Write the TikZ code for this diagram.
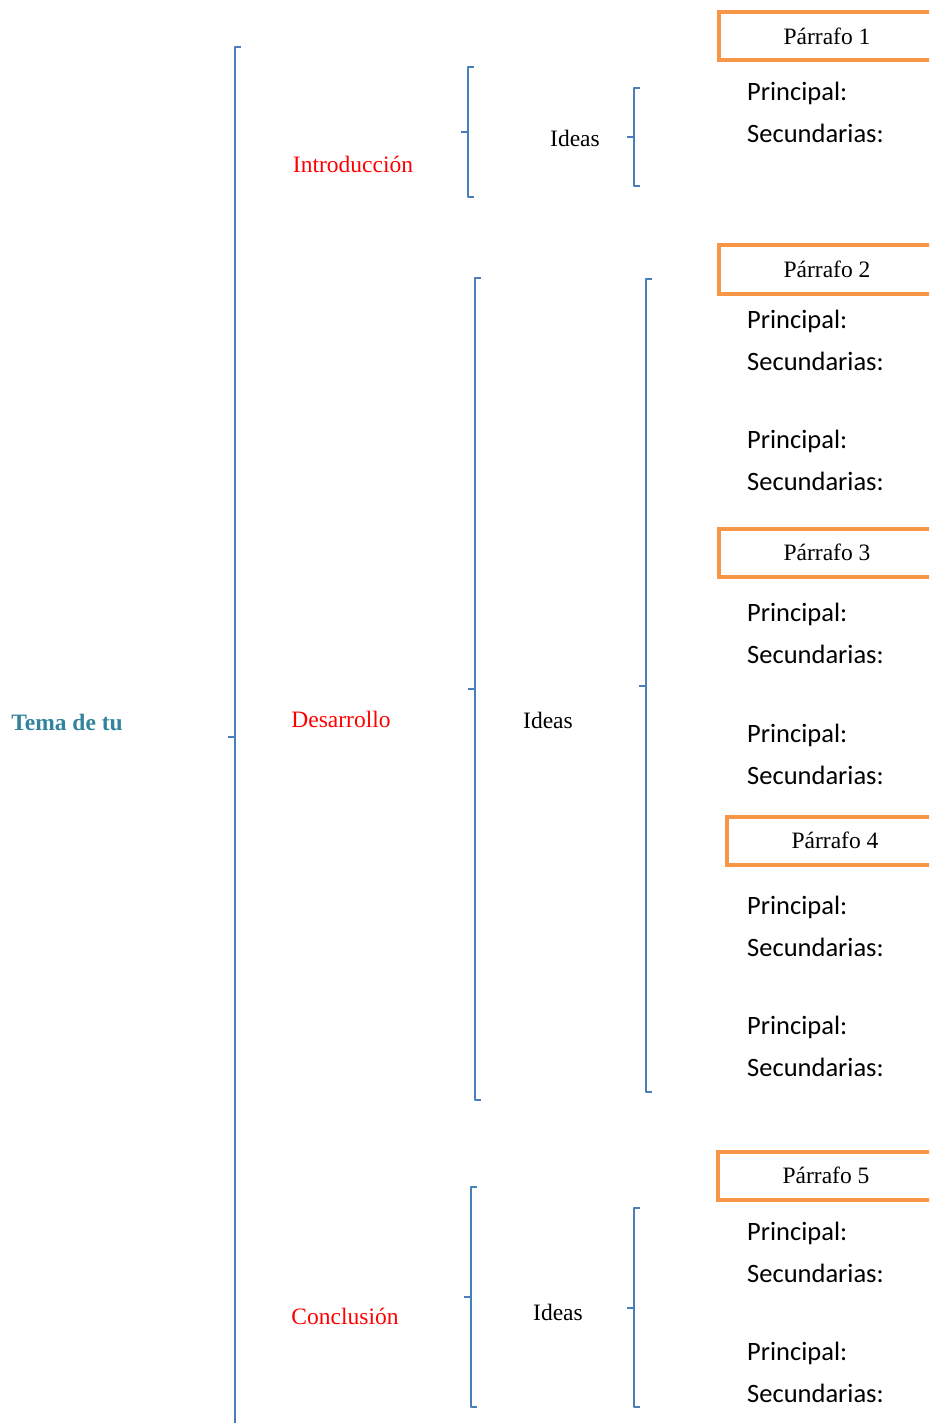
\documentclass[tikz,border=0pt]{standalone}
\usepackage{fontspec}
\setmainfont{Liberation Serif}
\newfontfamily\calibri{Carlito}
\definecolor{azul}{HTML}{4A7EBB}
\definecolor{naranja}{HTML}{F79646}
\definecolor{tema}{HTML}{31849B}

\begin{document}
\begin{tikzpicture}[x=1pt,y=-1pt,
	llave/.style={azul, line width=2pt, line join=round},
	parrafo/.style={draw=naranja, line width=4pt, minimum width=216pt, minimum height=48pt, inner sep=0pt, font=\fontsize{23.5}{26}\selectfont},
	seccion/.style={red, font=\fontsize{23.5}{26}\selectfont},
	ideas/.style={font=\fontsize{23.5}{26}\selectfont},
	campo/.style={anchor=west, inner sep=0pt, font=\calibri\fontsize{26.5}{30}\selectfont}]
	
	\clip (0,0) rectangle (929,1423);
	
	% llaves
	\foreach \x/\a/\m/\b in {235/47/737/1440, 468/67/132/197, 634/88/137/186,
		475/278/689/1100, 646/279/686/1092, 471/1187/1297/1407, 634/1208/1308/1407}
	{
		\draw[llave] (\x+6,\a) -- (\x,\a) -- (\x,\b) -- (\x+6,\b);
		\draw[llave] (\x,\m) -- (\x-7,\m);
	}
	
	\node[tema, font=\bfseries\fontsize{23.5}{26}\selectfont] (tema) at (67,722) {Tema de tu};
	
	\node[seccion] (intro) at (353,164) {Introducción};
	\node[seccion] (desarrollo) at (341,719) {Desarrollo};
	\node[seccion] (conclusion) at (345,1316) {Conclusión};
	
	\node[ideas] (ideas1) at (575,138) {Ideas};
	\node[ideas] (ideas2) at (548,720) {Ideas};
	\node[ideas] (ideas3) at (558,1312) {Ideas};
	
	\node[parrafo] (p1) at (827,36) {Párrafo 1};
	\node[parrafo] (p2) at (827,269.5) {Párrafo 2};
	\node[parrafo] (p3) at (827,552.5) {Párrafo 3};
	\node[parrafo] (p4) at (835,840.5) {Párrafo 4};
	\node[parrafo] (p5) at (826,1175.5) {Párrafo 5};
	
	\foreach \p in {93,321,441,614,735,907,1027,1233,1353}
	{
		\node[campo] (pr\p) at (747,\p) {Principal:};
		\node[campo] (sec\p) at (747,\p+40) {Secundarias:};
	}
\end{tikzpicture}
\end{document}
